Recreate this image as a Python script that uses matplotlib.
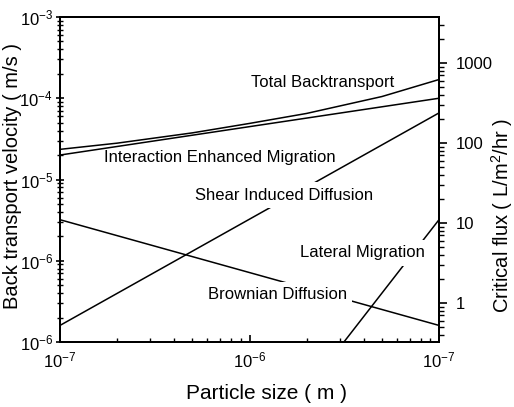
import matplotlib
matplotlib.use('Agg')
import matplotlib.pyplot as plt
from matplotlib.ticker import FixedLocator, FixedFormatter, LogLocator, NullFormatter

plt.rcParams['font.family'] = ['Liberation Sans', 'DejaVu Sans']
plt.rcParams['mathtext.fontset'] = 'custom'
plt.rcParams['mathtext.rm'] = 'Liberation Sans'
plt.rcParams['mathtext.default'] = 'rm'

# particle size (m)
size_ends = [1e-7, 1e-5]
size_total = [1e-7, 2e-7, 5e-7, 1e-6, 2e-6, 5e-6, 1e-5]

# back transport velocity (m/s)
total_backtransport = [2.35e-5, 2.8e-5, 3.75e-5, 4.9e-5, 6.5e-5, 1.05e-4, 1.7e-4]
interaction_migration = [2.0e-5, 1.0e-4]
shear_diffusion = [1.6e-7, 6.6e-5]
brownian_diffusion = [3.2e-6, 1.6e-7]
lateral_migration = [3.2e-12, 3.2e-6]

x_ticks = [1e-7, 1e-6, 1e-5]
x_tick_labels = ['10$^{-7}$', '10$^{-6}$', '10$^{-7}$']
y_ticks = [1e-7, 1e-6, 1e-5, 1e-4, 1e-3]
y_tick_labels = ['10$^{-6}$', '10$^{-6}$', '10$^{-5}$', '10$^{-4}$', '10$^{-3}$']
flux_ticks = [1, 10, 100, 1000]
flux_tick_labels = ['1', '10', '100', '1000']

fig = plt.figure(figsize=(5.14, 4.07), dpi=100)
ax = fig.add_axes([60 / 514, 1 - 342 / 407, 379 / 514, 325 / 407])

lw = 1.1
ax.plot(size_total, total_backtransport, color='black', lw=lw)
ax.plot(size_ends, interaction_migration, color='black', lw=lw)
ax.plot(size_ends, shear_diffusion, color='black', lw=lw)
ax.plot(size_ends, brownian_diffusion, color='black', lw=lw)
ax.plot(size_ends, lateral_migration, color='black', lw=lw)

ax.set_xscale('log')
ax.set_yscale('log')
ax.set_xlim(1e-7, 1e-5)
ax.set_ylim(1e-7, 1e-3)

ax.xaxis.set_major_locator(FixedLocator(x_ticks))
ax.xaxis.set_major_formatter(FixedFormatter(x_tick_labels))
ax.xaxis.set_minor_locator(LogLocator(base=10, subs=range(2, 10)))
ax.xaxis.set_minor_formatter(NullFormatter())
ax.yaxis.set_major_locator(FixedLocator(y_ticks))
ax.yaxis.set_major_formatter(FixedFormatter(y_tick_labels))
ax.yaxis.set_minor_locator(LogLocator(base=10, subs=range(2, 10)))
ax.yaxis.set_minor_formatter(NullFormatter())

ax.tick_params(axis='x', which='both', direction='in', top=False, labelsize=12, pad=6)
ax.tick_params(axis='x', which='major', length=5, width=1.2)
ax.tick_params(axis='x', which='minor', length=3, width=1)
ax.tick_params(axis='y', which='both', direction='inout', right=False, labelsize=12, pad=2)
ax.tick_params(axis='y', which='major', length=6, width=1.2)
ax.tick_params(axis='y', which='minor', length=4, width=1)
for s in ax.spines.values():
    s.set_linewidth(1.4)

ax.set_xlabel('Particle size ( m )', fontsize=15)
ax.xaxis.set_label_coords(0.544, -0.13)
ax.set_ylabel('Back transport velocity ( m/s )', fontsize=14.5)
ax.yaxis.set_label_coords(-0.10, 0.51)

# right axis, critical flux
ax2 = ax.twinx()
ax2.set_yscale('log')
ax2.set_ylim(0.3256, 3758)
ax2.yaxis.set_major_locator(FixedLocator(flux_ticks))
ax2.yaxis.set_major_formatter(FixedFormatter(flux_tick_labels))
ax2.yaxis.set_minor_locator(LogLocator(base=10, subs=range(2, 10)))
ax2.yaxis.set_minor_formatter(NullFormatter())
ax2.tick_params(axis='y', which='both', direction='out', labelsize=12, pad=6)
ax2.tick_params(axis='y', which='major', length=6, width=1.2)
ax2.tick_params(axis='y', which='minor', length=3.5, width=1)
for s in ax2.spines.values():
    s.set_linewidth(1.4)
ax2.set_ylabel('Critical flux ( L/m$^2$/hr )', fontsize=14.5)
ax2.yaxis.set_label_coords(1.132, 0.39)

# curve labels
box = dict(facecolor='white', edgecolor='none', pad=4)
ax.text(0.694, 0.800, 'Total Backtransport', transform=ax.transAxes, ha='center', va='center', fontsize=12)
ax.text(0.422, 0.569, 'Interaction Enhanced Migration', transform=ax.transAxes, ha='center', va='center', fontsize=12)
ax.text(0.591, 0.452, 'Shear Induced Diffusion', transform=ax.transAxes, ha='center', va='center', fontsize=12, bbox=box)
ax.text(0.799, 0.274, 'Lateral Migration', transform=ax.transAxes, ha='center', va='center', fontsize=12, bbox=box)
ax.text(0.573, 0.145, 'Brownian Diffusion', transform=ax.transAxes, ha='center', va='center', fontsize=12, bbox=box)

fig.savefig('out.png', dpi=100)
